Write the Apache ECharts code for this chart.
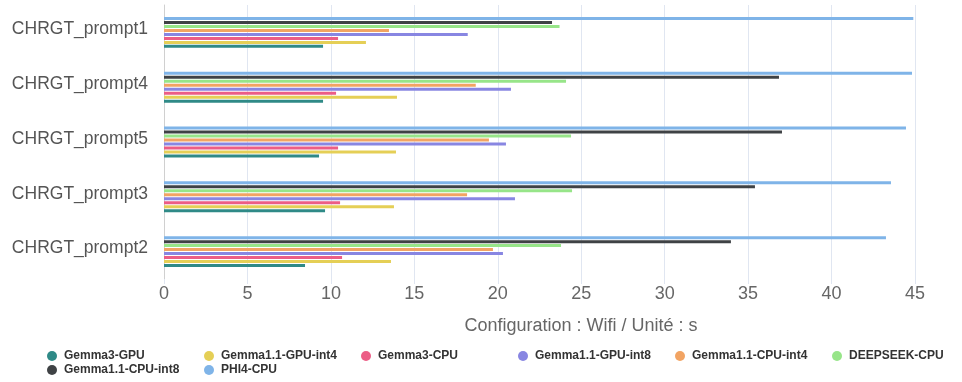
<!DOCTYPE html>
<html>
<head>
<meta charset="utf-8">
<script src="https://cdn.jsdelivr.net/npm/echarts@6/dist/echarts.min.js"></script>
<style>
html,body{margin:0;padding:0;background:#fff;}
#chart{width:962px;height:382px;}
</style>
</head>
<body>
<div id="chart"></div>
<script>
// categories listed bottom to top (ECharts category order)
const categories = ['CHRGT_prompt2', 'CHRGT_prompt3', 'CHRGT_prompt5', 'CHRGT_prompt4', 'CHRGT_prompt1'];
const seriesNames = ['Gemma3-GPU', 'Gemma1.1-GPU-int4', 'Gemma3-CPU', 'Gemma1.1-GPU-int8', 'Gemma1.1-CPU-int4', 'DEEPSEEK-CPU', 'Gemma1.1-CPU-int8', 'PHI4-CPU'];
const gemma3Gpu      = [8.45, 9.65, 9.29, 9.53, 9.53];
const gemma11GpuInt4 = [13.6, 13.78, 13.9, 13.96, 12.1];
const gemma3Cpu      = [10.67, 10.55, 10.43, 10.31, 10.43];
const gemma11GpuInt8 = [20.31, 21.03, 20.49, 20.79, 18.2];
const gemma11CpuInt4 = [19.71, 18.16, 19.47, 18.68, 13.48];
const deepseekCpu    = [23.79, 24.45, 24.39, 24.09, 23.7];
const gemma11CpuInt8 = [33.97, 35.41, 37.03, 36.85, 23.25];
const phi4Cpu        = [43.26, 43.56, 44.46, 44.82, 44.9];
const xTicks = [0, 5, 10, 15, 20, 25, 30, 35, 40, 45];
const axisName = 'Configuration : Wifi / Unité : s';

const seriesData = [gemma3Gpu, gemma11GpuInt4, gemma3Cpu, gemma11GpuInt8, gemma11CpuInt4, deepseekCpu, gemma11CpuInt8, phi4Cpu];
const colors = ['#2f8a87', '#e5cf56', '#ec5d86', '#8886e2', '#f2a463', '#97e589', '#3f4245', '#7fb4e8'];

// first series in the list is drawn at the top of each group, so add them in reverse
const seriesList = seriesNames.map((n, i) => ({
  name: n, type: 'bar', data: seriesData[i], barWidth: 3, barGap: '33%',
  itemStyle: {color: colors[i]}
})).reverse();

const chart = echarts.init(document.getElementById('chart'), null, {renderer: 'canvas'});
chart.setOption({
  animation: false,
  color: colors,
  grid: {left: 164, right: 47, top: 5, bottom: 103, containLabel: false},
  legend: {
    data: seriesNames,
    left: 47, top: 350, width: 1000, padding: 0,
    icon: 'circle', itemWidth: 14, itemHeight: 10, itemGap: 2,
    textStyle: {fontSize: 12, fontWeight: 'bold', color: '#333', width: 138, lineHeight: 12, fontFamily: 'Liberation Sans, Arial, sans-serif'}
  },
  xAxis: {
    type: 'value', min: xTicks[0], max: xTicks[xTicks.length - 1], interval: 5,
    name: axisName, nameLocation: 'middle', nameGap: 38,
    nameTextStyle: {fontSize: 18, color: '#666', padding: [0, 0, 0, 83], fontFamily: 'Liberation Sans, Arial, sans-serif'},
    axisLine: {show: false},
    axisTick: {show: true, length: 5, lineStyle: {color: '#e0e6f1'}},
    axisLabel: {fontSize: 18, color: '#666', margin: 6, fontFamily: 'Liberation Sans, Arial, sans-serif'},
    splitLine: {show: true, lineStyle: {color: '#e0e6f1'}}
  },
  yAxis: {
    type: 'category', data: categories,
    axisLine: {show: true, lineStyle: {color: '#d0d0d0'}},
    axisTick: {show: false},
    axisLabel: {fontSize: 17.5, color: '#555', margin: 16, verticalAlign: 'bottom', lineHeight: 6, fontFamily: 'Liberation Sans, Arial, sans-serif'}
  },
  series: seriesList
});
</script>
</body>
</html>
